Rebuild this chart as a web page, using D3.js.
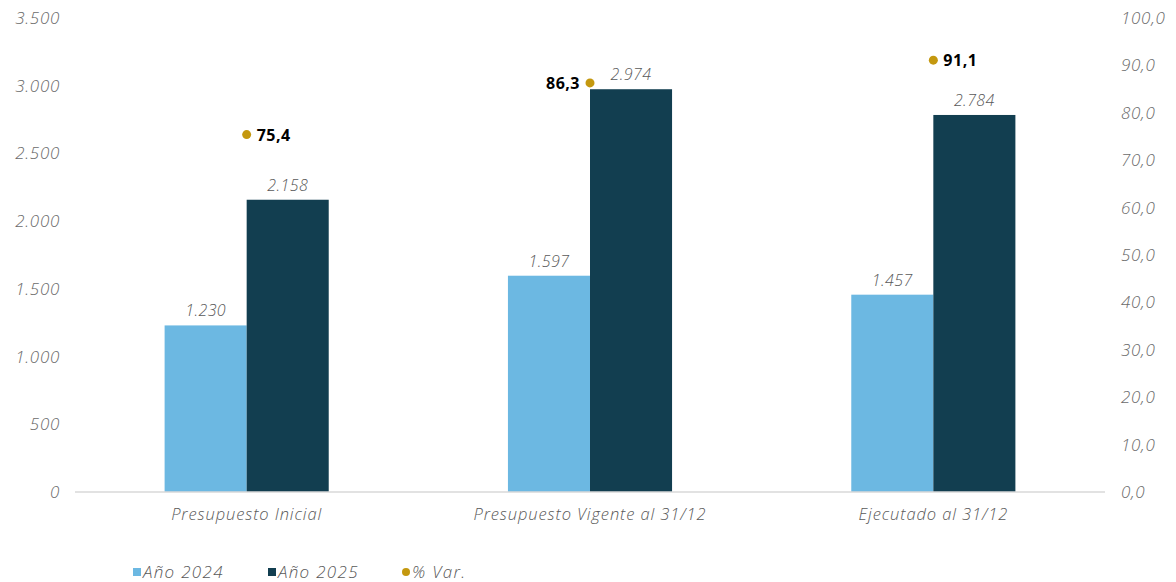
<!DOCTYPE html>
<html>
<head>
<meta charset="utf-8">
<script src="https://cdn.jsdelivr.net/npm/d3@7"></script>
<style>
  body { margin: 0; background: #fff; }
  text { font-family: "Open Sans", "Lato", sans-serif; }
</style>
</head>
<body>
<div id="wrapper"></div>
<script>
// 1. data
const categories = ["Presupuesto Inicial", "Presupuesto Vigente al 31/12", "Ejecutado al 31/12"]
const seriesNames = ["Año 2024", "Año 2025"]
const values2024 = [1230, 1597, 1457]
const values2025 = [2158, 2974, 2784]
const pctVar = [75.4, 86.3, 91.1]
const leftTicks = [0, 500, 1000, 1500, 2000, 2500, 3000, 3500]
const rightTicks = [0, 10, 20, 30, 40, 50, 60, 70, 80, 90, 100]

const colors = { "Año 2024": "#6cb8e2", "Año 2025": "#123e50" }
const dotColor = "#c4980f"

const fmtInt = d => d3.format(",")(d).replace(/,/g, ".")
const fmtPct = d => d3.format(".1f")(d).replace(".", ",")

// 2. dimensions
let dimensions = {
  width: 1176,
  height: 582,
  margin: { top: 18, right: 71, bottom: 90, left: 75 }
}
dimensions.boundedWidth = dimensions.width - dimensions.margin.left - dimensions.margin.right
dimensions.boundedHeight = dimensions.height - dimensions.margin.top - dimensions.margin.bottom

// 3. canvas
const svg = d3.select("#wrapper").append("svg")
  .attr("width", dimensions.width)
  .attr("height", dimensions.height)

const bounds = svg.append("g")
  .attr("transform", `translate(${dimensions.margin.left},${dimensions.margin.top})`)

// 4. scales
const xScale = d3.scaleBand()
  .domain(categories)
  .range([0, dimensions.boundedWidth])

const bw = xScale.bandwidth()
const x1Scale = d3.scaleBand()
  .domain(seriesNames)
  .range([bw * 0.261, bw * 0.739])

const yScale = d3.scaleLinear()
  .domain([0, 3500])
  .range([dimensions.boundedHeight, 0])

const y2Scale = d3.scaleLinear()
  .domain([0, 100])
  .range([dimensions.boundedHeight, 0])

// 5. bars
const rows = categories.map((c, i) => ({
  category: c,
  bars: [
    { key: "Año 2024", value: values2024[i] },
    { key: "Año 2025", value: values2025[i] }
  ],
  pct: pctVar[i]
}))

const groups = bounds.selectAll(".group")
  .data(rows)
  .join("g")
    .attr("class", "group")
    .attr("transform", d => `translate(${xScale(d.category)},0)`)

groups.selectAll("rect")
  .data(d => d.bars)
  .join("rect")
    .attr("x", d => x1Scale(d.key))
    .attr("y", d => yScale(d.value))
    .attr("width", x1Scale.bandwidth())
    .attr("height", d => dimensions.boundedHeight - yScale(d.value))
    .attr("fill", d => colors[d.key])

groups.selectAll(".val")
  .data(d => d.bars)
  .join("text")
    .attr("class", "val")
    .attr("x", d => x1Scale(d.key) + x1Scale.bandwidth() / 2)
    .attr("y", d => yScale(d.value) - 9)
    .attr("text-anchor", "middle")
    .style("font-style", "italic")
    .style("font-weight", 300)
    .style("font-size", "16px")
    .style("letter-spacing", "0.4px")
    .attr("fill", "#595959")
    .text(d => fmtInt(d.value))

// axis line at 0
bounds.append("line")
  .attr("x1", 0)
  .attr("x2", dimensions.boundedWidth)
  .attr("y1", yScale(0))
  .attr("y2", yScale(0))
  .attr("stroke", "#d9d9d9")
  .attr("stroke-width", 1.5)

// % var dots
const cx = d => xScale(d.category) + bw / 2
bounds.selectAll(".dot")
  .data(rows)
  .join("circle")
    .attr("class", "dot")
    .attr("cx", cx)
    .attr("cy", d => y2Scale(d.pct))
    .attr("r", 4.5)
    .attr("fill", dotColor)

bounds.selectAll(".pct")
  .data(rows)
  .join("text")
    .attr("class", "pct")
    .attr("x", (d, i) => i === 1 ? cx(d) - 10 : cx(d) + 10)
    .attr("y", d => y2Scale(d.pct) + 6)
    .attr("text-anchor", (d, i) => i === 1 ? "end" : "start")
    .style("font-weight", "bold")
    .style("font-size", "16px")
    .style("letter-spacing", "0.5px")
    .attr("fill", "#000")
    .text(d => fmtPct(d.pct))

// 6. axes
const tickStyle = g => g
  .style("font-style", "italic")
  .style("font-weight", 300)
  .style("font-size", "17px")
  .style("letter-spacing", "0.7px")
  .attr("fill", "#6b6b6b")

bounds.append("g")
  .selectAll("text")
  .data(leftTicks)
  .join("text")
    .attr("x", -15)
    .attr("y", d => yScale(d))
    .attr("dy", "0.35em")
    .attr("text-anchor", "end")
    .call(tickStyle)
    .text(fmtInt)

bounds.append("g")
  .selectAll("text")
  .data(rightTicks)
  .join("text")
    .attr("x", dimensions.boundedWidth + 16)
    .attr("y", d => y2Scale(d))
    .attr("dy", "0.35em")
    .attr("text-anchor", "start")
    .call(tickStyle)
    .text(fmtPct)

const labelStyle = g => g
  .style("font-style", "italic")
  .style("font-weight", 300)
  .style("font-size", "16.5px")
  .style("letter-spacing", "0.9px")
  .attr("fill", "#595959")

bounds.append("g")
  .selectAll("text")
  .data(categories)
  .join("text")
    .attr("x", d => xScale(d) + bw / 2)
    .attr("y", dimensions.boundedHeight + 28)
    .attr("text-anchor", "middle")
    .call(labelStyle)
    .text(d => d)

// 7. legend
const legendItems = [
  { label: "Año 2024", color: colors["Año 2024"], shape: "square", x: 133 },
  { label: "Año 2025", color: colors["Año 2025"], shape: "square", x: 268 },
  { label: "% Var.", color: dotColor, shape: "circle", x: 402 }
]
const legend = svg.append("g")
  .attr("transform", "translate(0,572)")
const li = legend.selectAll("g")
  .data(legendItems)
  .join("g")
    .attr("transform", d => `translate(${d.x},0)`)
li.filter(d => d.shape === "square").append("rect")
  .attr("x", 0).attr("y", -4).attr("width", 8).attr("height", 8)
  .attr("fill", d => d.color)
li.filter(d => d.shape === "circle").append("circle")
  .attr("cx", 4).attr("cy", 0).attr("r", 4)
  .attr("fill", d => d.color)
li.append("text")
  .attr("x", 10)
  .attr("dy", "0.35em")
  .call(labelStyle)
  .style("font-size", "17px")
  .style("letter-spacing", "1.3px")
  .text(d => d.label)
</script>
</body>
</html>
